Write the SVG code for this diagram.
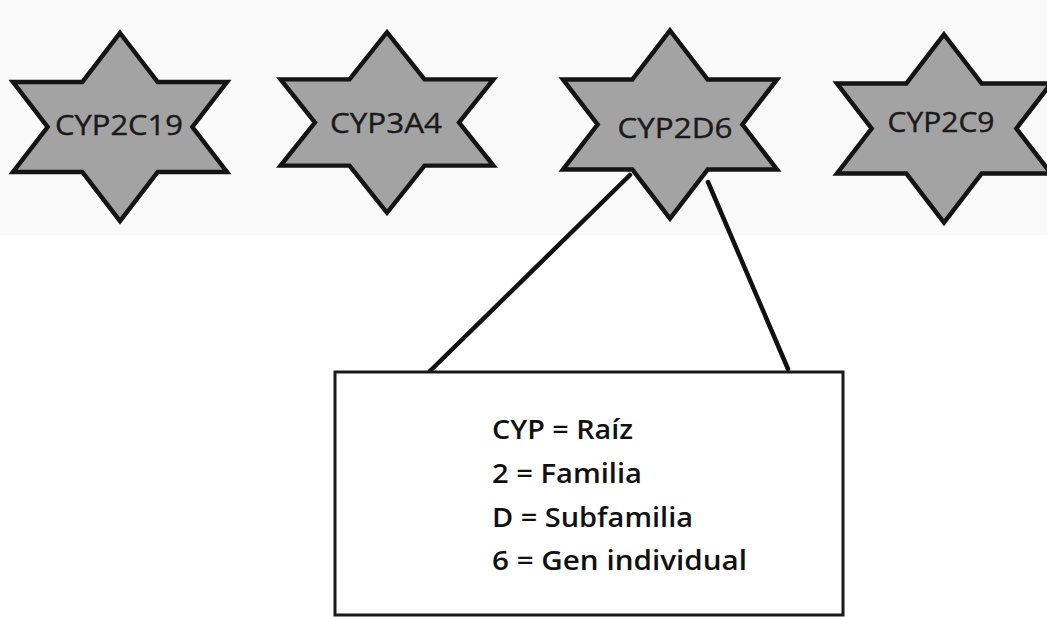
<svg xmlns="http://www.w3.org/2000/svg" xmlns:xlink="http://www.w3.org/1999/xlink" width="1047" height="617" viewBox="0 0 1047 617">
  <style>
    .star { fill: #a3a3a3; stroke: #141414; stroke-width: 4.5; stroke-linejoin: miter; }
    .slabel { font-family: "Open Sans", "Liberation Sans", sans-serif; font-size: 28px; fill: #1a1a1a; text-anchor: middle; stroke: #1a1a1a; stroke-width: 0.4; }
    .box { fill: #ffffff; stroke: #1a1a1a; stroke-width: 3; }
    .btext { font-family: "Open Sans", "Liberation Sans", sans-serif; font-size: 26.5px; font-weight: 600; fill: #111111; }
    .conn { stroke: #111111; stroke-width: 4.5; stroke-linecap: round; fill: none; }
  </style>
  <defs>
    <polygon id="star" points="0,-94 37.7,-45 107,-45 72.4,0 107,45 37.7,45 0,94 -37.7,45 -107,45 -72.4,0 -107,-45 -37.7,-45"/>
  </defs>
  <rect x="0" y="0" width="1047" height="617" fill="#ffffff"/>
  <rect x="0" y="0" width="1047" height="235" fill="#f9f9f9"/>

  <g id="connectors">
    <line class="conn" x1="630" y1="175" x2="430" y2="371"/>
    <line class="conn" x1="708" y1="182" x2="788" y2="369"/>
  </g>

  <g id="node-cyp2c19">
    <use xlink:href="#star" href="#star" class="star" transform="translate(120,127)"/>
    <text class="slabel" x="119" y="135" textLength="128" lengthAdjust="spacingAndGlyphs">CYP2C19</text>
  </g>
  <g id="node-cyp3a4">
    <use xlink:href="#star" href="#star" class="star" transform="translate(387,122.5) scale(0.995,0.96)"/>
    <text class="slabel" x="386" y="133" textLength="112" lengthAdjust="spacingAndGlyphs">CYP3A4</text>
  </g>
  <g id="node-cyp2d6">
    <use xlink:href="#star" href="#star" class="star" transform="translate(670,124.5)"/>
    <text class="slabel" x="675" y="138" textLength="115" lengthAdjust="spacingAndGlyphs">CYP2D6</text>
  </g>
  <g id="node-cyp2c9">
    <use xlink:href="#star" href="#star" class="star" transform="translate(944,128.5)"/>
    <text class="slabel" x="941" y="132" textLength="107" lengthAdjust="spacingAndGlyphs">CYP2C9</text>
  </g>

  <g id="node-legend">
    <rect class="box" x="335" y="372" width="508" height="243"/>
    <text class="btext" x="492" y="439" textLength="141" lengthAdjust="spacingAndGlyphs">CYP = Raíz</text>
    <text class="btext" x="492" y="483" textLength="150" lengthAdjust="spacingAndGlyphs">2 = Familia</text>
    <text class="btext" x="492" y="527" textLength="201" lengthAdjust="spacingAndGlyphs">D = Subfamilia</text>
    <text class="btext" x="492" y="570" textLength="255" lengthAdjust="spacingAndGlyphs">6 = Gen individual</text>
  </g>
</svg>
